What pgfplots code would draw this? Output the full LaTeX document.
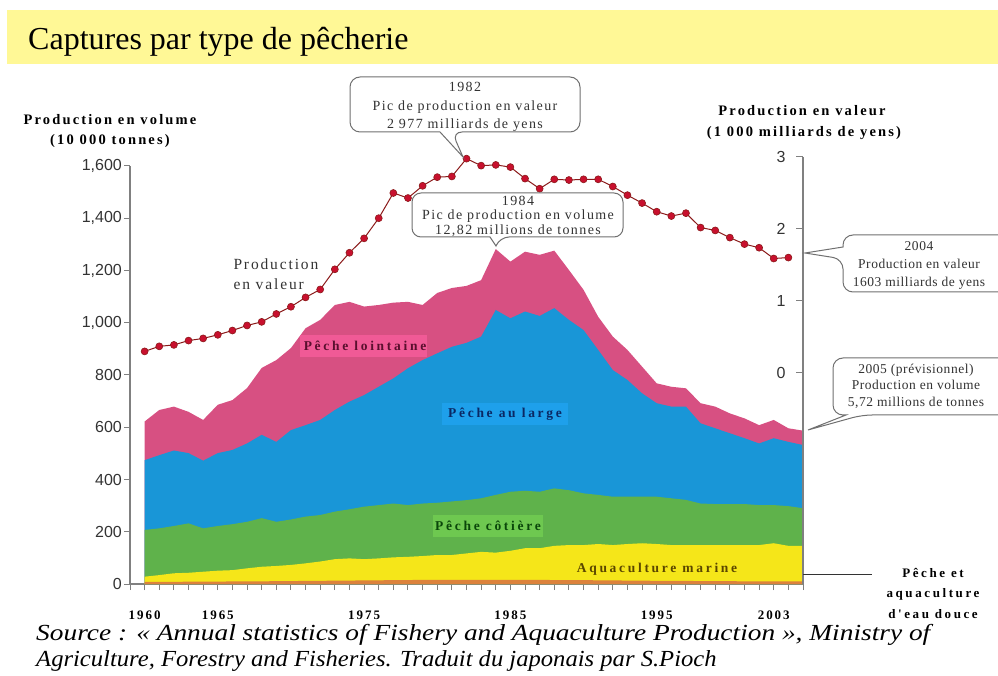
\documentclass[border=0pt]{standalone}
\usepackage{fontspec}
\setmainfont{Liberation Serif}
\newfontfamily\sansf{Liberation Sans}
\newfontfamily\lsr[LetterSpace=10]{Liberation Serif}
\newfontfamily\lsrn[LetterSpace=4]{Liberation Serif}
\newfontfamily\lsrw[LetterSpace=12]{Liberation Serif}
\newfontfamily\lsb[LetterSpace=15]{Liberation Serif}
\newfontfamily\lsbw[LetterSpace=20]{Liberation Serif}
\usepackage{pgfplots}
\pgfplotsset{compat=1.18}
\usepackage{pgfplotstable}

\definecolor{titlebg}{HTML}{FFF896}
\definecolor{cpink}{HTML}{D75082}
\definecolor{cpinkbox}{HTML}{F05A96}
\definecolor{cblue}{HTML}{1996D7}
\definecolor{cbluebox}{HTML}{1EA0EB}
\definecolor{cgreen}{HTML}{5FB24B}
\definecolor{cgreenbox}{HTML}{6EC850}
\definecolor{cyellow}{HTML}{F5E619}
\definecolor{corange}{HTML}{DC823C}
\definecolor{lred}{HTML}{8B1A1A}
\definecolor{dred}{HTML}{C8102E}
\definecolor{axgray}{HTML}{808080}
\definecolor{txtgray}{HTML}{333333}
\definecolor{calgray}{HTML}{707070}

% cumulative boundaries (10 000 tonnes): fresh water, + marine aquaculture, + coastal, + offshore, + distant water (total)
\pgfplotstableread{
year fw aq cot lar tot
1960 8 28 207 474 622
1961 8 34 213 493 666
1962 8 41 222 511 679
1963 9 43 232 501 659
1964 9 47 213 472 628
1965 9 51 222 501 686
1966 10 53 229 513 704
1967 10 60 238 538 750
1968 10 66 252 571 827
1969 11 69 238 544 857
1970 11 73 247 589 903
1971 12 79 258 608 979
1972 12 86 264 628 1011
1973 13 95 277 666 1068
1974 13 98 286 698 1080
1975 14 95 296 723 1062
1976 14 98 302 755 1068
1977 15 102 308 787 1077
1978 15 104 302 826 1080
1979 16 107 308 857 1068
1980 16 111 311 883 1114
1981 16 111 316 908 1133
1982 16 117 321 923 1141
1983 16 123 328 947 1163
1984 16 120 341 1049 1282
1985 16 127 353 1017 1234
1986 16 137 357 1043 1272
1987 16 137 353 1026 1260
1988 15 146 366 1056 1276
1989 15 149 359 1011 1202
1990 15 149 347 972 1126
1991 14 153 341 896 1023
1992 14 149 334 819 947
1993 13 153 334 781 896
1994 13 156 334 730 832
1995 12 153 334 692 768
1996 12 149 328 679 755
1997 12 149 322 679 749
1998 11 149 308 615 692
1999 11 149 306 596 679
2000 11 149 306 577 653
2001 10 149 306 558 634
2002 10 149 302 538 608
2003 10 156 302 558 628
2004 10 146 298 544 596
2005 10 146 290 532 587
}\stackdata

% production value (1 000 milliards de yens)
\pgfplotstableread{
year val
1960 0.30
1961 0.37
1962 0.39
1963 0.45
1964 0.48
1965 0.53
1966 0.59
1967 0.66
1968 0.71
1969 0.82
1970 0.92
1971 1.05
1972 1.16
1973 1.44
1974 1.67
1975 1.87
1976 2.15
1977 2.50
1978 2.43
1979 2.60
1980 2.72
1981 2.73
1982 2.977
1983 2.88
1984 2.89
1985 2.86
1986 2.70
1987 2.56
1988 2.69
1989 2.68
1990 2.69
1991 2.69
1992 2.59
1993 2.47
1994 2.36
1995 2.24
1996 2.18
1997 2.22
1998 2.02
1999 1.98
2000 1.88
2001 1.79
2002 1.74
2003 1.59
2004 1.603
}\valdata

\begin{document}
\begin{tikzpicture}[x=1pt,y=1pt]
\useasboundingbox (0,0) rectangle (998,675);
\clip (0,0) rectangle (998,675);
% title band
\fill[titlebg] (7,611) rectangle (998,665);
\node[anchor=base west, inner sep=0pt, font=\fontsize{32}{32}\selectfont] at (28,625) {Captures par type de pêcherie};

% left axis: volumes
\begin{axis}[
  at={(130pt,91pt)}, anchor=south west, scale only axis,
  width=673pt, height=418pt,
  xmin=1959, xmax=2005, ymin=0, ymax=1600,
  axis x line=bottom, axis y line=left,
  axis line style={-, draw=axgray, line width=1.2pt},
  tick style={draw=axgray, line width=1pt},
  tick align=outside, major tick length=6pt, minor tick length=6pt,
  xtick={1960,1965,1975,1985,1995,2003},
  xticklabels={1960,1965,1975,1985,1995,2003},
  minor xtick={1959,1960,...,2005},
  ytick={0,200,400,600,800,1000,1200,1400,1600},
  yticklabels={0,200,400,600,800,{1,000},{1,200},{1,400},{1,600}},
  yticklabel style={font=\sansf\fontsize{16}{16}\selectfont, text=txtgray, inner sep=2pt},
  xticklabel style={font=\lsb\bfseries\fontsize{13}{13}\selectfont, yshift=-17pt},
]
\addplot[fill=cpink, draw=none] table[x=year,y=tot]{\stackdata} \closedcycle;
\addplot[fill=cblue, draw=none] table[x=year,y=lar]{\stackdata} \closedcycle;
\addplot[fill=cgreen, draw=none] table[x=year,y=cot]{\stackdata} \closedcycle;
\addplot[fill=cyellow, draw=none] table[x=year,y=aq]{\stackdata} \closedcycle;
\addplot[fill=corange, draw=none] table[x=year,y=fw]{\stackdata} \closedcycle;
\end{axis}

% right axis: value
\begin{axis}[
  at={(130pt,91pt)}, anchor=south west, scale only axis,
  width=673pt, height=427pt,
  xmin=1959, xmax=2005, ymin=-2.931, ymax=3,
  axis x line=none, axis y line=right,
  axis line style={-, draw=axgray, line width=1.2pt},
  tick style={draw=axgray, line width=1pt},
  tick align=inside, major tick length=7pt,
  ytick={0,1,2,3}, yticklabels={0,1,2,3},
  yticklabel style={font=\sansf\fontsize{16}{16}\selectfont, text=txtgray, anchor=east, xshift=-14pt},
]
\addplot[draw=lred, line width=1pt, mark=*, mark size=3.5pt,
  mark options={fill=dred, draw=lred, line width=0.6pt}] table[x=year,y=val]{\valdata};
\end{axis}

% axis titles
\node[font=\lsb\bfseries\fontsize{14.5}{14.5}\selectfont] at (110,555) {Production en volume};
\node[font=\lsb\bfseries\fontsize{14.5}{14.5}\selectfont] at (110,534) {(10 000 tonnes)};
\node[font=\lsb\bfseries\fontsize{14.5}{14.5}\selectfont] at (802,564) {Production en valeur};
\node[font=\lsb\bfseries\fontsize{14.5}{14.5}\selectfont] at (804,542) {(1 000 milliards de yens)};

% in-plot labels
\node[anchor=west, align=left, text=txtgray, font=\lsrw\fontsize{15.5}{20}\selectfont] at (230,401) {Production\\en valeur};
\fill[cpinkbox] (300,318) rectangle (427,340);
\node[text={rgb,255:red,90;green,15;blue,46}, font=\lsbw\bfseries\fontsize{13.5}{13.5}\selectfont] at (365,329) {Pêche lointaine};
\fill[cbluebox] (442,250) rectangle (568,272);
\node[text={rgb,255:red,10;green,40;blue,100}, font=\lsbw\bfseries\fontsize{13.5}{13.5}\selectfont] at (505,261) {Pêche au large};
\fill[cgreenbox] (433,138) rectangle (543,160);
\node[text={rgb,255:red,10;green,70;blue,10}, font=\lsbw\bfseries\fontsize{13.5}{13.5}\selectfont] at (488,149) {Pêche côtière};
\node[text={rgb,255:red,90;green,70;blue,0}, font=\lsbw\bfseries\fontsize{13.5}{13.5}\selectfont] at (657,106) {Aquaculture marine};

% fresh water label
\draw[txtgray, line width=1pt] (803,101) -- (872,101);
\node[align=center, font=\lsbw\bfseries\fontsize{13}{20.5}\selectfont] at (933,82) {Pêche et\\aquaculture\\d'eau douce};

% callouts
\draw[fill=white, draw=calgray, line width=1pt] (465,598) [rounded corners=10pt] -- (580,598) -- (580,543) -- (452,543) [sharp corners] -- (463,518) -- (440,543) [rounded corners=10pt] -- (350,543) -- (350,598) -- cycle;
\node[align=center, text=txtgray, font=\lsr\fontsize{14}{18.5}\selectfont] at (465,568) {1982\\Pic de production en valeur\\2 977 milliards de yens};

\draw[fill=white, draw=calgray, line width=1pt] (518,482) [rounded corners=9pt] -- (623,482) -- (623,438) -- (500,438) [sharp corners] -- (496,429) -- (490,438) [rounded corners=9pt] -- (412,438) -- (412,482) -- cycle;
\node[align=center, text=txtgray, font=\lsr\fontsize{14}{14.5}\selectfont] at (518,459) {1984\\Pic de production en volume\\12,82 millions de tonnes};

\draw[fill=white, draw=calgray, line width=1pt] (930,440) [rounded corners=10pt] -- (1010,440) -- (1010,383) -- (843,383) -- (843,416) [sharp corners] -- (805,422) -- (843,428) [rounded corners=10pt] -- (843,440) -- cycle;
\node[align=center, text=txtgray, font=\lsrn\fontsize{13.5}{18}\selectfont] at (919,410) {2004\\Production en valeur\\1603 milliards de yens};

\draw[fill=white, draw=calgray, line width=1pt] (930,317) [rounded corners=10pt] -- (1010,317) -- (1010,260) -- (862,260) [sharp corners] -- (808,245) -- (846,260) [rounded corners=10pt] -- (833,260) -- (833,317) -- cycle;
\node[align=center, text=txtgray, font=\lsrn\fontsize{13.5}{16.5}\selectfont] at (916,289) {2005 (prévisionnel)\\Production en volume\\5,72 millions de tonnes};

% source
\node[anchor=base west, inner sep=0pt, font=\itshape\fontsize{23}{23}\selectfont, xscale=1.19] at (36,35) {Source : « Annual statistics of Fishery and Aquaculture Production », Ministry of};
\node[anchor=base west, inner sep=0pt, font=\itshape\fontsize{23}{23}\selectfont, xscale=1.07] at (36,9) {Agriculture, Forestry and Fisheries. Traduit du japonais par S.Pioch};
\end{tikzpicture}
\end{document}
